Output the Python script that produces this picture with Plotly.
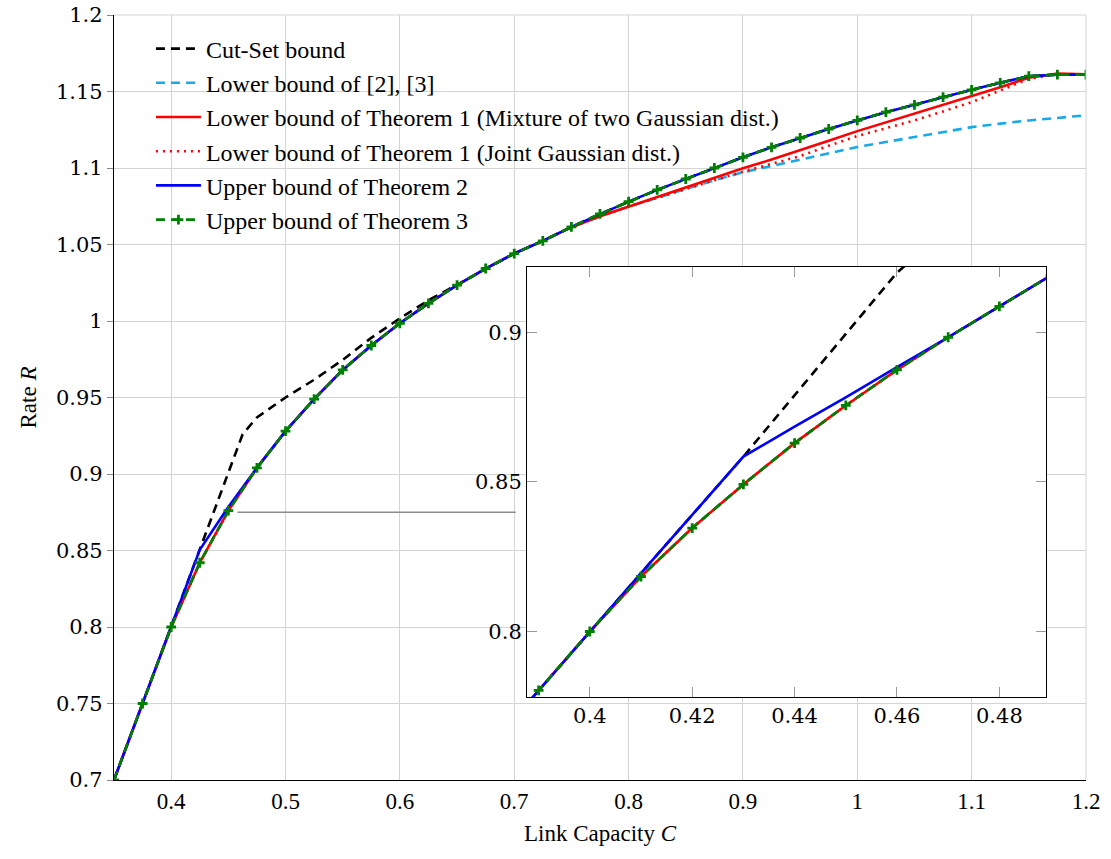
import plotly.graph_objects as go

# ---------------- main-axis data ----------------
C_main = [0.35, 0.375, 0.4, 0.425, 0.45, 0.475, 0.5, 0.525, 0.55, 0.575, 0.6, 0.625,
          0.65, 0.675, 0.7, 0.725, 0.75, 0.775, 0.8, 0.825, 0.85, 0.875, 0.9, 0.925,
          0.95, 0.975, 1.0, 1.025, 1.05, 1.075, 1.1, 1.125, 1.15, 1.175, 1.2]

thm3 = [0.700, 0.750, 0.800, 0.842, 0.876, 0.904, 0.928, 0.949, 0.968, 0.984, 0.9985, 1.0115,
        1.0235, 1.0343, 1.0441, 1.0524, 1.0615, 1.0700, 1.0780, 1.0857, 1.0928, 1.1000, 1.1070, 1.1135,
        1.1196, 1.1255, 1.1311, 1.1365, 1.1413, 1.1463, 1.1511, 1.1557, 1.1600, 1.1610, 1.1610]

thm2 = [0.700, 0.750, 0.800, 0.8505, 0.8785, 0.904, 0.928, 0.949, 0.968, 0.984, 0.9985, 1.0115,
        1.0235, 1.0343, 1.0441, 1.0524, 1.0615, 1.0700, 1.0780, 1.0857, 1.0928, 1.1000, 1.1070, 1.1135,
        1.1196, 1.1255, 1.1311, 1.1365, 1.1413, 1.1463, 1.1511, 1.1557, 1.1600, 1.1610, 1.1610]

thm1_mix = [0.700, 0.750, 0.800, 0.842, 0.876, 0.904, 0.928, 0.949, 0.968, 0.984, 0.9985, 1.0115,
            1.0235, 1.0343, 1.0441, 1.0524, 1.0612, 1.0685, 1.0748, 1.0810, 1.0870, 1.0935, 1.0998, 1.1055,
            1.1115, 1.1178, 1.1241, 1.1298, 1.1354, 1.1410, 1.1467, 1.1528, 1.1590, 1.1618, 1.1612]

thm1_joint = [0.700, 0.750, 0.800, 0.842, 0.876, 0.904, 0.928, 0.949, 0.968, 0.984, 0.9985, 1.0115,
              1.0235, 1.0343, 1.0441, 1.0524, 1.0612, 1.0685, 1.0748, 1.0805, 1.0865, 1.0920, 1.0976, 1.1026,
              1.1078, 1.1145, 1.1209, 1.1260, 1.1311, 1.1370, 1.1430, 1.1507, 1.1583, 1.1612, 1.1610]

lb_23 = [0.700, 0.750, 0.800, 0.842, 0.876, 0.904, 0.928, 0.949, 0.968, 0.984, 0.9985, 1.0115,
         1.0235, 1.0343, 1.0441, 1.0524, 1.0612, 1.0685, 1.0748, 1.0805, 1.0865, 1.0920, 1.0972, 1.1013,
         1.1054, 1.1095, 1.1137, 1.1170, 1.1202, 1.1235, 1.1267, 1.1290, 1.1311, 1.1327, 1.1345]

C_cut = [0.35, 0.375, 0.4, 0.425, 0.4375, 0.45, 0.4625, 0.475, 0.5, 0.525, 0.55, 0.575, 0.6, 0.625,
         0.65, 0.675, 0.7, 0.725, 0.75, 0.775, 0.8, 0.825, 0.85, 0.875, 0.9, 0.925, 0.95, 0.975,
         1.0, 1.025, 1.05, 1.075, 1.1, 1.125, 1.15, 1.175, 1.2]
cut_set = [0.700, 0.750, 0.800, 0.851, 0.876, 0.900, 0.926, 0.937, 0.950, 0.9616, 0.9746, 0.989, 1.0017, 1.0135,
           1.0238, 1.0343, 1.0441, 1.0524, 1.0615, 1.0700, 1.0780, 1.0857, 1.0928, 1.1000, 1.1070, 1.1135, 1.1196,
           1.1255, 1.1311, 1.1365, 1.1413, 1.1463, 1.1511, 1.1557, 1.1600, 1.1610, 1.1610]

# ---------------- inset (zoom) data ----------------
C_zoom = [0.38, 0.39, 0.40, 0.41, 0.42, 0.43, 0.44, 0.45, 0.46, 0.47, 0.48, 0.49]
thm3_z = [0.7606, 0.7803, 0.8000, 0.8184, 0.8346, 0.8492, 0.8630, 0.8756, 0.8875, 0.8984, 0.9087, 0.9190]
thm2_z = [0.7606, 0.7803, 0.8000, 0.8195, 0.8390, 0.8585, 0.8685, 0.8783, 0.8884, 0.8984, 0.9087, 0.9190]
cut_z = [0.7606, 0.7803, 0.8000, 0.8195, 0.8390, 0.8585, 0.8790, 0.8995, 0.9200, 0.9350, 0.9400, 0.9450]
thm1_mix_z = thm3_z
thm1_joint_z = thm3_z
lb_23_z = thm3_z

# zoom-marker line (spy connector)
spy_x = [0.458, 0.7013]
spy_y = [0.875, 0.875]

x_ticks = [0.4, 0.5, 0.6, 0.7, 0.8, 0.9, 1.0, 1.1, 1.2]
x_tick_text = ["0.4", "0.5", "0.6", "0.7", "0.8", "0.9", "1", "1.1", "1.2"]
y_ticks = [0.7, 0.75, 0.8, 0.85, 0.9, 0.95, 1.0, 1.05, 1.1, 1.15, 1.2]
y_tick_text = ["0.7", "0.75", "0.8", "0.85", "0.9", "0.95", "1", "1.05", "1.1", "1.15", "1.2"]
xz_ticks = [0.4, 0.42, 0.44, 0.46, 0.48]
xz_tick_text = ["0.4", "0.42", "0.44", "0.46", "0.48"]
yz_ticks = [0.8, 0.85, 0.9]
yz_tick_text = ["0.8", "0.85", "0.9"]

labels = ["Cut-Set bound", "Lower bound of [2], [3]",
          "Lower bound of Theorem 1 (Mixture of two Gaussian dist.)",
          "Lower bound of Theorem 1 (Joint Gaussian dist.)",
          "Upper bound of Theorem 2", "Upper bound of Theorem 3"]

BLACK = "#000000"
CYAN = "#19a9e6"
RED = "#ff0000"
BLUE = "#0000ff"
GREEN = "#008000"
LW = 2.6

fig = go.Figure()

def add_set(xa, ya, cx, cy, lx, ly, mix, joint, b2, b3, xb, show):
    fig.add_trace(go.Scatter(x=cx, y=cy, mode="lines", name=labels[0], showlegend=show,
                             line=dict(color=BLACK, width=LW, dash="9px,6px"), xaxis=xa, yaxis=ya))
    fig.add_trace(go.Scatter(x=lx, y=ly, mode="lines", name=labels[1], showlegend=show,
                             line=dict(color=CYAN, width=LW, dash="9px,6px"), xaxis=xa, yaxis=ya))
    fig.add_trace(go.Scatter(x=xb, y=mix, mode="lines", name=labels[2], showlegend=show,
                             line=dict(color=RED, width=LW), xaxis=xa, yaxis=ya))
    fig.add_trace(go.Scatter(x=xb, y=joint, mode="lines", name=labels[3], showlegend=show,
                             line=dict(color=RED, width=LW, dash="2px,5px"), xaxis=xa, yaxis=ya))
    fig.add_trace(go.Scatter(x=xb, y=b2, mode="lines", name=labels[4], showlegend=show,
                             line=dict(color=BLUE, width=LW), xaxis=xa, yaxis=ya))
    fig.add_trace(go.Scatter(x=xb, y=b3, mode="lines+markers", name=labels[5], showlegend=show,
                             line=dict(color=GREEN, width=LW, dash="9px,6px"),
                             marker=dict(symbol="cross-thin", size=7, color=GREEN,
                                         line=dict(color=GREEN, width=2.8)),
                             xaxis=xa, yaxis=ya))

fig.add_trace(go.Scatter(x=spy_x, y=spy_y, mode="lines", showlegend=False,
                         line=dict(color="#8c8c8c", width=1.3), xaxis="x", yaxis="y"))

add_set("x", "y", C_cut, cut_set, C_main, lb_23, thm1_mix, thm1_joint, thm2, thm3, C_main, True)
add_set("x2", "y2", C_zoom, cut_z, C_zoom, lb_23_z, thm1_mix_z, thm1_joint_z, thm2_z, thm3_z, C_zoom, False)

GRID = "#d4d4d4"
fig.update_layout(
    width=1111, height=859,
    margin=dict(l=114, r=25, t=15, b=79),
    paper_bgcolor="white", plot_bgcolor="white",
    font=dict(family="Liberation Serif", size=20, color="black"),
    xaxis=dict(domain=[0, 1], range=[0.35, 1.2], tickvals=x_ticks, ticktext=x_tick_text,
               showgrid=True, gridcolor=GRID, gridwidth=1, zeroline=False, automargin=False,
               showline=True, linecolor="black", linewidth=1.3, ticks="",
               tickfont=dict(family="Liberation Serif", size=23),
               title=dict(text="Link Capacity <i>C</i>", font=dict(family="Liberation Serif", size=23),
                          standoff=12)),
    yaxis=dict(domain=[0, 1], range=[0.7, 1.2], tickvals=y_ticks, ticktext=y_tick_text,
               showgrid=True, gridcolor=GRID, gridwidth=1, zeroline=False, automargin=False,
               showline=True, linecolor="black", linewidth=1.3, ticks="outside", ticklen=6,
               tickcolor="#888888",
               tickfont=dict(family="DejaVu Serif", size=21),
               title=dict(text="Rate <i>R</i>", font=dict(family="Liberation Serif", size=23),
                          standoff=12)),
    xaxis2=dict(domain=[0.425, 0.959], range=[0.38775, 0.48914], anchor="y2",
                tickvals=xz_ticks, ticktext=xz_tick_text, showgrid=False, zeroline=False,
                showline=True, linecolor="black", linewidth=1.3, mirror="ticks",
                ticks="inside", ticklen=10, tickcolor="#999999",
                tickfont=dict(family="DejaVu Serif", size=21)),
    yaxis2=dict(domain=[0.1085, 0.6706], range=[0.7781, 0.9219], anchor="x2",
                tickvals=yz_ticks, ticktext=yz_tick_text, showgrid=False, zeroline=False,
                showline=True, linecolor="black", linewidth=1.3, mirror="ticks",
                ticks="inside", ticklen=10, tickcolor="#999999",
                tickfont=dict(family="DejaVu Serif", size=21)),
    legend=dict(x=0.038, y=0.985, xanchor="left", yanchor="top", bgcolor="rgba(0,0,0,0)",
                borderwidth=0, font=dict(family="Liberation Serif", size=24), itemwidth=45,
                tracegroupgap=0),
    shapes=[
        dict(type="line", xref="paper", yref="paper", x0=0, x1=1, y0=1, y1=1,
             line=dict(color=GRID, width=1)),
        dict(type="line", xref="paper", yref="paper", x0=1, x1=1, y0=0, y1=1,
             line=dict(color=GRID, width=1)),
    ],
)

fig.write_html("out.html", config={"displayModeBar": False},
               post_script="document.body.style.margin='0';")
